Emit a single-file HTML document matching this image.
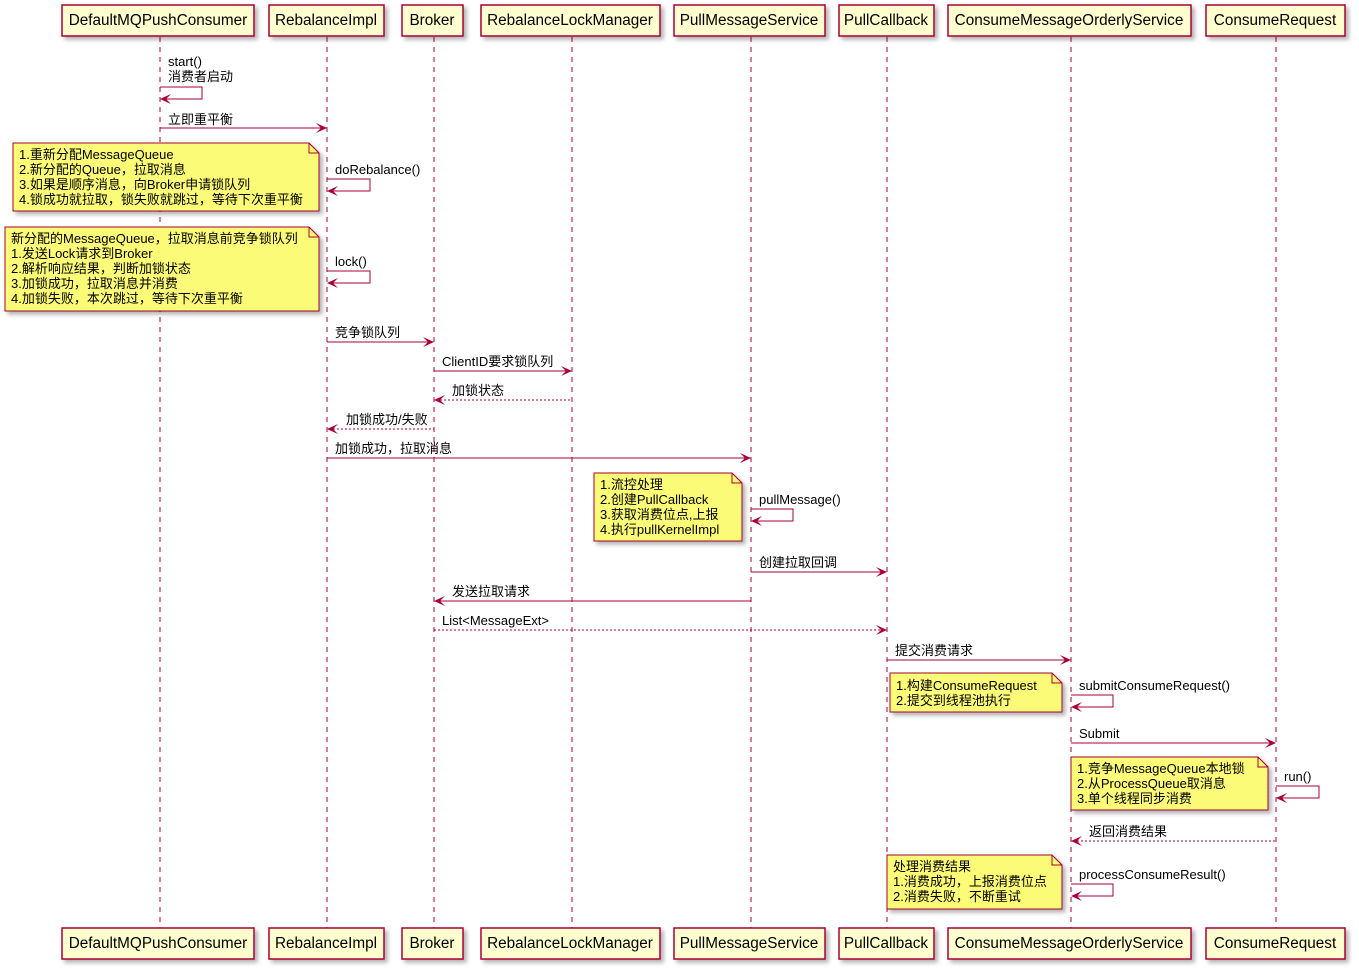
<!DOCTYPE html>
<html><head><meta charset="utf-8"><style>
html,body{margin:0;padding:0;background:#fff;}
svg text{font-family:"Liberation Sans","Noto Sans CJK SC",sans-serif;font-size:13px;fill:#000;}
svg text.h{font-size:15.3px;}
</style></head><body>
<svg width="1359" height="972" viewBox="0 0 1359 972" xmlns="http://www.w3.org/2000/svg">
<defs>
<filter id="sh" x="-10%" y="-10%" width="130%" height="140%"><feDropShadow dx="3" dy="3" stdDeviation="2" flood-color="#000" flood-opacity="0.3"/></filter>
</defs>
<g stroke="#A80036" stroke-width="1" stroke-dasharray="5,5" fill="none">
<line x1="160" y1="37" x2="160" y2="928"/>
<line x1="327" y1="37" x2="327" y2="928"/>
<line x1="434" y1="37" x2="434" y2="928"/>
<line x1="572" y1="37" x2="572" y2="928"/>
<line x1="751" y1="37" x2="751" y2="928"/>
<line x1="887" y1="37" x2="887" y2="928"/>
<line x1="1071" y1="37" x2="1071" y2="928"/>
<line x1="1276" y1="37" x2="1276" y2="928"/>
</g>
<g fill="#FEFECE" stroke="#A80036" stroke-width="1.5" filter="url(#sh)">
<rect x="62" y="5" width="192" height="31"/><rect x="269" y="5" width="115" height="31"/><rect x="402" y="5" width="61" height="31"/><rect x="481" y="5" width="179" height="31"/><rect x="674" y="5" width="151" height="31"/><rect x="839" y="5" width="95" height="31"/><rect x="948" y="5" width="243" height="31"/><rect x="1206" y="5" width="139" height="31"/>
<rect x="62" y="928" width="192" height="31"/><rect x="269" y="928" width="115" height="31"/><rect x="402" y="928" width="61" height="31"/><rect x="481" y="928" width="179" height="31"/><rect x="674" y="928" width="151" height="31"/><rect x="839" y="928" width="95" height="31"/><rect x="948" y="928" width="243" height="31"/><rect x="1206" y="928" width="139" height="31"/>
</g>
<g text-anchor="middle">
<text class="h" x="158" y="25">DefaultMQPushConsumer</text><text class="h" x="326" y="25">RebalanceImpl</text><text class="h" x="432" y="25">Broker</text><text class="h" x="570" y="25">RebalanceLockManager</text><text class="h" x="749" y="25">PullMessageService</text><text class="h" x="886" y="25">PullCallback</text><text class="h" x="1069" y="25">ConsumeMessageOrderlyService</text><text class="h" x="1275" y="25">ConsumeRequest</text>
<text class="h" x="158" y="948">DefaultMQPushConsumer</text><text class="h" x="326" y="948">RebalanceImpl</text><text class="h" x="432" y="948">Broker</text><text class="h" x="570" y="948">RebalanceLockManager</text><text class="h" x="749" y="948">PullMessageService</text><text class="h" x="886" y="948">PullCallback</text><text class="h" x="1069" y="948">ConsumeMessageOrderlyService</text><text class="h" x="1275" y="948">ConsumeRequest</text>
</g>
<g fill="#FBFB77" stroke="#A80036" stroke-width="1" filter="url(#sh)">
<path d="M13,143 H309 L319,153 V211 H13 Z"/>
<path d="M5,227 H309 L319,237 V311 H5 Z"/>
<path d="M594,473 H732 L742,483 V541 H594 Z"/>
<path d="M890,673 H1052 L1062,683 V712 H890 Z"/>
<path d="M1071,757 H1258 L1268,767 V810 H1071 Z"/>
<path d="M887,855 H1052 L1062,865 V909 H887 Z"/>
</g>
<g fill="none" stroke="#A80036" stroke-width="1">
<path d="M309,143 V153 H319"/><path d="M309,227 V237 H319"/><path d="M732,473 V483 H742"/><path d="M1052,673 V683 H1062"/><path d="M1258,757 V767 H1268"/><path d="M1052,855 V865 H1062"/>
</g>
<g>
<text x="19" y="159">1.重新分配MessageQueue</text><text x="19" y="174">2.新分配的Queue，拉取消息</text><text x="19" y="189">3.如果是顺序消息，向Broker申请锁队列</text><text x="19" y="204">4.锁成功就拉取，锁失败就跳过，等待下次重平衡</text>
<text x="11" y="243">新分配的MessageQueue，拉取消息前竞争锁队列</text><text x="11" y="258">1.发送Lock请求到Broker</text><text x="11" y="273">2.解析响应结果，判断加锁状态</text><text x="11" y="288">3.加锁成功，拉取消息并消费</text><text x="11" y="303">4.加锁失败，本次跳过，等待下次重平衡</text>
<text x="600" y="489">1.流控处理</text><text x="600" y="504">2.创建PullCallback</text><text x="600" y="519">3.获取消费位点,上报</text><text x="600" y="534">4.执行pullKernelImpl</text>
<text x="896" y="690">1.构建ConsumeRequest</text><text x="896" y="705">2.提交到线程池执行</text>
<text x="1077" y="773">1.竞争MessageQueue本地锁</text><text x="1077" y="788">2.从ProcessQueue取消息</text><text x="1077" y="803">3.单个线程同步消费</text>
<text x="893" y="871">处理消费结果</text><text x="893" y="886">1.消费成功，上报消费位点</text><text x="893" y="901">2.消费失败，不断重试</text>
</g>
<g fill="none" stroke="#A80036" stroke-width="1">
<path d="M160,87 H202 V99 H162"/><path d="M327,179 H370 V191 H329"/><path d="M327,271 H370 V283 H329"/><path d="M751,509 H793 V521 H753"/><path d="M1071,695 H1113 V707 H1073"/><path d="M1276,786 H1319 V798 H1278"/><path d="M1071,884 H1113 V896 H1073"/>
<line x1="160" y1="128" x2="325" y2="128"/>
<line x1="327" y1="342" x2="432" y2="342"/>
<line x1="434" y1="371" x2="570" y2="371"/>
<line x1="327" y1="458" x2="749" y2="458"/>
<line x1="751" y1="572" x2="885" y2="572"/>
<line x1="436" y1="601" x2="751" y2="601"/>
<line x1="887" y1="660" x2="1069" y2="660"/>
<line x1="1071" y1="743" x2="1274" y2="743"/>
</g>
<g fill="none" stroke="#A80036" stroke-width="1" stroke-dasharray="2,2">
<line x1="436" y1="400" x2="572" y2="400"/>
<line x1="329" y1="429" x2="434" y2="429"/>
<line x1="434" y1="630" x2="885" y2="630"/>
<line x1="1073" y1="841" x2="1276" y2="841"/>
</g>
<g fill="#A80036">
<polygon points="327,128 316,123 321,128 316,133"/>
<polygon points="434,342 423,337 428,342 423,347"/>
<polygon points="572,371 561,366 566,371 561,376"/>
<polygon points="751,458 740,453 745,458 740,463"/>
<polygon points="887,572 876,567 881,572 876,577"/>
<polygon points="887,630 876,625 881,630 876,635"/>
<polygon points="1071,660 1060,655 1065,660 1060,665"/>
<polygon points="1276,743 1265,738 1270,743 1265,748"/>
<polygon points="434,601 445,596 440,601 445,606"/>
<polygon points="434,400 445,395 440,400 445,405"/>
<polygon points="327,429 338,424 333,429 338,434"/>
<polygon points="1071,841 1082,836 1077,841 1082,846"/>
<polygon points="160,99 171,94 166,99 171,104"/>
<polygon points="327,191 338,186 333,191 338,196"/>
<polygon points="327,283 338,278 333,283 338,288"/>
<polygon points="751,521 762,516 757,521 762,526"/>
<polygon points="1071,707 1082,702 1077,707 1082,712"/>
<polygon points="1276,798 1287,793 1282,798 1287,803"/>
<polygon points="1071,896 1082,891 1077,896 1082,901"/>
</g>
<g>
<text x="168" y="66">start()</text><text x="168" y="81">消费者启动</text>
<text x="168" y="124">立即重平衡</text>
<text x="335" y="174">doRebalance()</text>
<text x="335" y="266">lock()</text>
<text x="335" y="337">竞争锁队列</text>
<text x="442" y="366">ClientID要求锁队列</text>
<text x="452" y="395">加锁状态</text>
<text x="346" y="424">加锁成功/失败</text>
<text x="335" y="453">加锁成功，拉取消息</text>
<text x="759" y="504">pullMessage()</text>
<text x="759" y="567">创建拉取回调</text>
<text x="452" y="596">发送拉取请求</text>
<text x="442" y="625">List&lt;MessageExt&gt;</text>
<text x="895" y="655">提交消费请求</text>
<text x="1079" y="690">submitConsumeRequest()</text>
<text x="1079" y="738">Submit</text>
<text x="1284" y="781">run()</text>
<text x="1089" y="836">返回消费结果</text>
<text x="1079" y="879">processConsumeResult()</text>
</g>
</svg>
</body></html>
